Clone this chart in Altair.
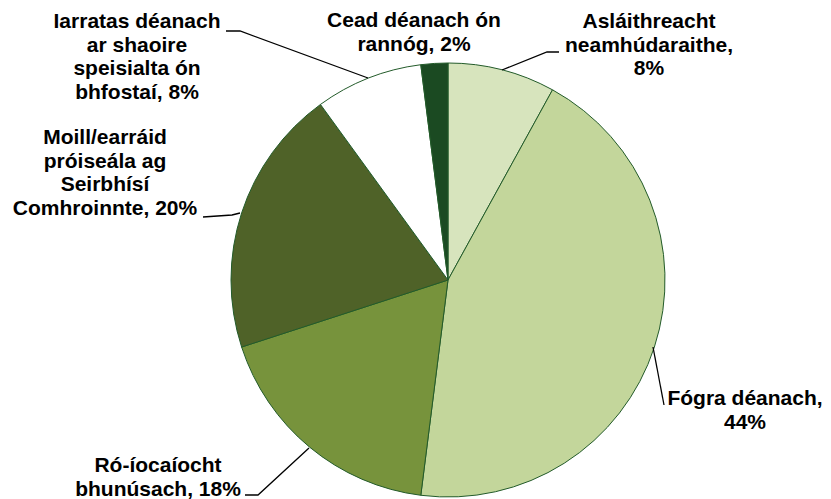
import altair as alt
import pandas as pd

# ---- data ----
categories = [
    "Asláithreacht neamhúdaraithe",
    "Fógra déanach",
    "Ró-íocaíocht bhunúsach",
    "Moill/earráid próiseála ag Seirbhísí Comhroinnte",
    "Iarratas déanach ar shaoire speisialta ón bhfostaí",
    "Cead déanach ón rannóg",
]
values = [8, 44, 18, 20, 8, 2]
label_texts = [
    "Asláithreacht\nneamhúdaraithe,\n8%",
    "Fógra déanach,\n44%",
    "Ró-íocaíocht\nbhunúsach, 18%",
    "Moill/earráid\npróiseála ag\nSeirbhísí\nComhroinnte, 20%",
    "Iarratas déanach\nar shaoire\nspeisialta ón\nbhfostaí, 8%",
    "Cead déanach ón\nrannóg, 2%",
]

# ---- styling / layout ----
colors = ["#D7E4BD", "#C3D69B", "#77933C", "#4F6228", "#FFFFFF", "#1B4A22"]
OFF = 8  # page margin
CX, CY, R = 448 - OFF, 280 - OFF, 217
label_pos = [  # (x center, first baseline) in page px
    (649, 28), (745, 405), (158, 472), (105, 144), (137, 28), (414, 27)
]
leaders = [  # polyline points in page px
    [(559, 52), (547, 52), (502, 70)],
    [(664, 405), (653, 347)],
    [(245, 495), (258, 495), (309, 448)],
    [(203, 217), (232, 215), (240, 213)],
    [(226, 31), (240, 31), (368, 78)],
]

pie_df = pd.DataFrame({"cat": categories, "value": values, "idx": list(range(len(values)))})

arcs = alt.Chart(pie_df).mark_arc(
    radius=R, stroke="#235B2A", strokeWidth=1
).encode(
    theta=alt.Theta("value:Q", stack=True),
    order=alt.Order("idx:Q"),
    color=alt.Color("cat:N", scale=alt.Scale(domain=categories, range=colors), legend=None),
    x=alt.value(CX),
    y=alt.value(CY),
)

lab_df = pd.DataFrame({
    "text": label_texts,
    "x": [p[0] - OFF for p in label_pos],
    "y": [p[1] - OFF for p in label_pos],
})
labels = alt.Chart(lab_df).mark_text(
    font="Liberation Sans", fontWeight="bold", fontSize=21, lineHeight=23.7,
    align="center", baseline="alphabetic", lineBreak="\n", color="#000000"
).encode(
    x=alt.X("x:Q", scale=None, axis=None),
    y=alt.Y("y:Q", scale=None, axis=None),
    text="text:N",
)

rows = []
for li, pts in enumerate(leaders):
    for pi, (px, py) in enumerate(pts):
        rows.append({"line": li, "ord": pi, "x": px - OFF, "y": py - OFF})
lead_df = pd.DataFrame(rows)
lines = alt.Chart(lead_df).mark_line(color="#000000", strokeWidth=1.3).encode(
    x=alt.X("x:Q", scale=None, axis=None),
    y=alt.Y("y:Q", scale=None, axis=None),
    detail="line:N",
    order="ord:Q",
)

chart = alt.layer(arcs, lines, labels).properties(
    width=815, height=491, padding=0, autosize=alt.AutoSizeParams(type="none")
).configure_view(stroke=None)

chart.save("out.html", embed_options={"renderer": "svg", "actions": False})
